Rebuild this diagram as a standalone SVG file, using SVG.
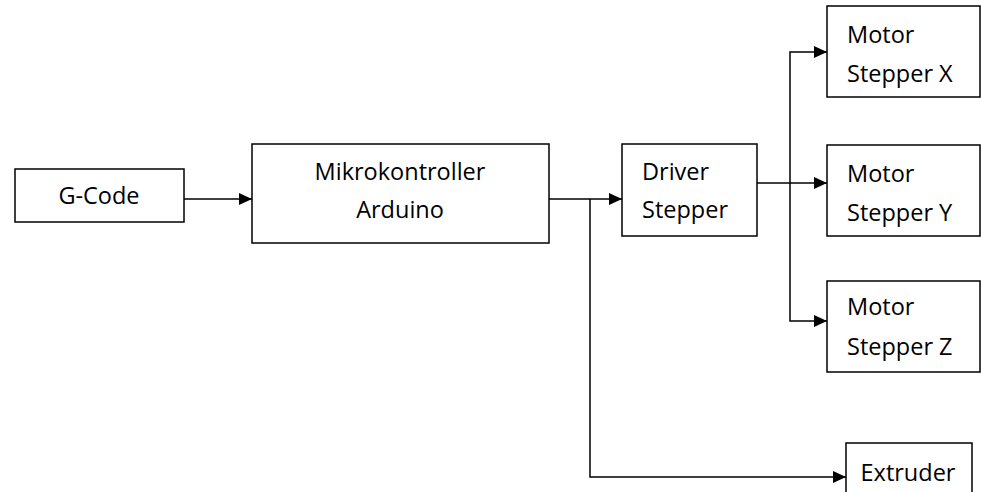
<svg xmlns="http://www.w3.org/2000/svg" width="981" height="492" viewBox="0 0 981 492">
<defs>
<marker id="ah" markerWidth="13" markerHeight="12" refX="13" refY="6" orient="auto" markerUnits="userSpaceOnUse">
<path d="M0,0 L13,6 L0,12 Z" fill="#000"/>
</marker>
<style>
rect{fill:#fff;stroke:#000;stroke-width:1.5}
text{font-family:"Open Sans","Liberation Sans",sans-serif;font-size:23.5px;fill:#000}
.c{text-anchor:middle}
#connectors path{fill:none;stroke:#000;stroke-width:1.5}
</style>
</defs>
<rect x="0" y="0" width="981" height="492" style="fill:#fff;stroke:none"/>
<g id="connectors">
<path d="M184,199 H252" marker-end="url(#ah)"/>
<path d="M549,199 H622" marker-end="url(#ah)"/>
<path d="M590,199 V477 H846" marker-end="url(#ah)"/>
<path d="M757,183 H827" marker-end="url(#ah)"/>
<path d="M790,183 V52 H827" marker-end="url(#ah)"/>
<path d="M790,183 V321 H827" marker-end="url(#ah)"/>
</g>
<g id="gcode">
<rect x="15" y="169" width="169" height="53"/>
<text class="c" x="99" y="204">G-Code</text>
</g>
<g id="mikro">
<rect x="252" y="144" width="297" height="99"/>
<text class="c" x="400" y="180">Mikrokontroller</text>
<text class="c" x="400" y="218">Arduino</text>
</g>
<g id="driver">
<rect x="622" y="144" width="135" height="92"/>
<text x="642" y="180">Driver</text>
<text x="642" y="218">Stepper</text>
</g>
<g id="motorx">
<rect x="827" y="6" width="153" height="91"/>
<text x="847" y="43">Motor</text>
<text x="847" y="82">Stepper X</text>
</g>
<g id="motory">
<rect x="827" y="145" width="153" height="91"/>
<text x="847" y="182">Motor</text>
<text x="847" y="221">Stepper Y</text>
</g>
<g id="motorz">
<rect x="827" y="281" width="153" height="91"/>
<text x="847" y="315">Motor</text>
<text x="847" y="355">Stepper Z</text>
</g>
<g id="extruder">
<rect x="846" y="443" width="126" height="60"/>
<text class="c" x="908" y="481">Extruder</text>
</g>
</svg>
